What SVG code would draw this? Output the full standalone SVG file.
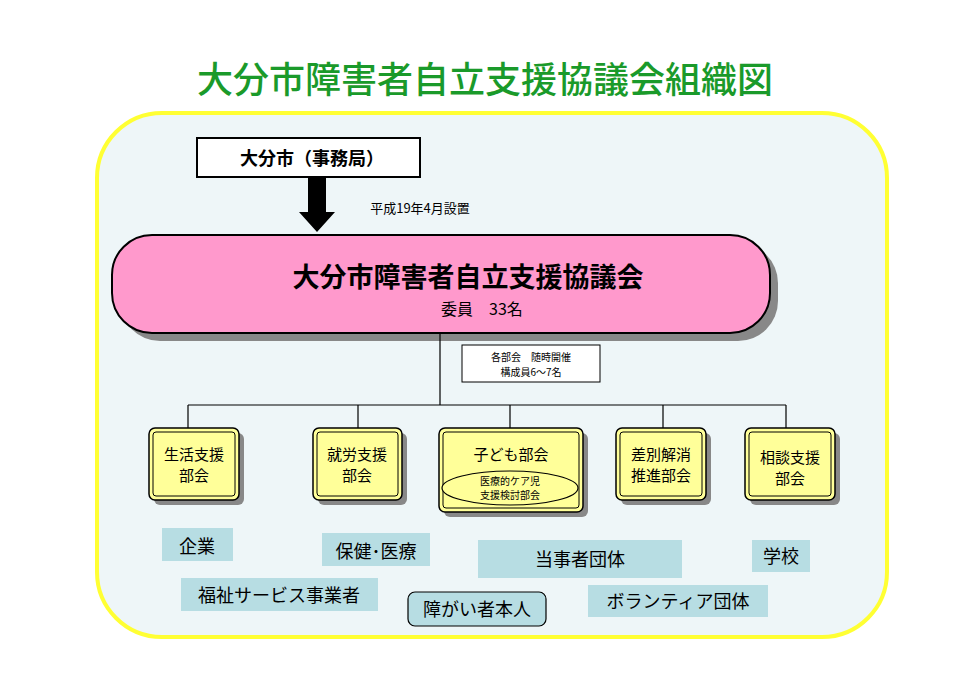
<svg xmlns="http://www.w3.org/2000/svg" width="970" height="686" viewBox="0 0 970 686">
<style>
text{font-family:"Noto Sans CJK JP","Liberation Sans",sans-serif;text-anchor:middle}
.b{fill:#ffff99;stroke:#000;stroke-width:1.5}
.sh{fill:#888}
.l{fill:#b7dde3}
.ln{stroke:#000;stroke-width:1.2;fill:none}
.t{font-size:18px}
</style>
<rect width="970" height="686" fill="#fff"/>
<text x="485" y="93" font-size="36" font-weight="500" fill="#1a9a2a">大分市障害者自立支援協議会組織図</text>
<rect x="97" y="113" width="790" height="524" rx="65" fill="#eef6f8" stroke="#ffff33" stroke-width="4"/>
<g id="jimukyoku">
<rect x="197" y="138" width="223" height="39" fill="#fff" stroke="#000" stroke-width="2"/>
<text x="312" y="165" font-size="18" font-weight="bold">大分市（事務局）</text>
</g>
<g id="arrow">
<polygon points="308,177 326,177 326,212 335,212 317,232 299,212 308,212" fill="#000"/>
<text x="420" y="213" font-size="13">平成19年4月設置</text>
</g>
<g id="kyogikai">
<rect x="120" y="243" width="658" height="98" rx="40" class="sh"/>
<rect x="112" y="235" width="658" height="98" rx="40" fill="#ff99cc" stroke="#000" stroke-width="2"/>
<text x="468" y="287" font-size="27" font-weight="bold">大分市障害者自立支援協議会</text>
<text x="482" y="315" font-size="16">委員　33名</text>
</g>
<g id="connectors" class="ln">
<path d="M440 333V405M188 405H786M188 405V428M358 405V428M510 405V428M663 405V428M786 405V428"/>
</g>
<g id="note">
<rect x="462" y="345" width="138" height="37" fill="#fff" stroke="#000"/>
<text x="531" y="361" font-size="10">各部会　随時開催</text>
<text x="531" y="376" font-size="10">構成員6～7名</text>
</g>
<g id="bukai1"><rect x="154" y="433" width="90" height="72" rx="6" class="sh"/><rect x="149" y="428" width="90" height="72" rx="6" class="b"/><rect x="153" y="432" width="82" height="64" rx="3" fill="none" stroke="#000"/>
<text x="194" y="460" font-size="15">生活支援</text><text x="194" y="481" font-size="15">部会</text></g>
<g id="bukai2"><rect x="318" y="433" width="89" height="72" rx="6" class="sh"/><rect x="313" y="428" width="89" height="72" rx="6" class="b"/><rect x="317" y="432" width="81" height="64" rx="3" fill="none" stroke="#000"/>
<text x="357" y="460" font-size="15">就労支援</text><text x="357" y="481" font-size="15">部会</text></g>
<g id="bukai3"><rect x="444" y="433" width="144" height="84" rx="6" class="sh"/><rect x="439" y="428" width="144" height="84" rx="6" class="b"/><rect x="443" y="432" width="136" height="76" rx="3" fill="none" stroke="#000"/>
<text x="511" y="460" font-size="15">子ども部会</text>
<ellipse cx="510" cy="488" rx="68" ry="17" fill="#ffff99" stroke="#000" stroke-width="1.2"/>
<text x="510" y="485" font-size="10">医療的ケア児</text><text x="510" y="499" font-size="10">支援検討部会</text></g>
<g id="bukai4"><rect x="621" y="433" width="90" height="72" rx="6" class="sh"/><rect x="616" y="428" width="90" height="72" rx="6" class="b"/><rect x="620" y="432" width="82" height="64" rx="3" fill="none" stroke="#000"/>
<text x="661" y="460" font-size="15">差別解消</text><text x="661" y="481" font-size="15">推進部会</text></g>
<g id="bukai5"><rect x="750" y="433" width="90" height="72" rx="6" class="sh"/><rect x="745" y="428" width="90" height="72" rx="6" class="b"/><rect x="749" y="432" width="82" height="64" rx="3" fill="none" stroke="#000"/>
<text x="790" y="463" font-size="15">相談支援</text><text x="790" y="484" font-size="15">部会</text></g>
<g id="kigyo"><rect x="162" y="528" width="71" height="33" class="l"/><text x="197" y="553" class="t">企業</text></g>
<g id="hoken"><rect x="322" y="533" width="108" height="33" class="l"/><text x="376" y="558" class="t">保健･医療</text></g>
<g id="tojisha"><rect x="478" y="540" width="204" height="38" class="l"/><text x="580" y="566" class="t">当事者団体</text></g>
<g id="gakko"><rect x="752" y="540" width="58" height="32" class="l"/><text x="781" y="563" class="t">学校</text></g>
<g id="fukushi"><rect x="181" y="578" width="197" height="33" class="l"/><text x="279" y="602" class="t">福祉サービス事業者</text></g>
<g id="honnin"><rect x="408" y="592" width="138" height="34" rx="7" class="l" stroke="#000" stroke-width="1.2"/><text x="477" y="616" class="t">障がい者本人</text></g>
<g id="volunteer"><rect x="588" y="585" width="180" height="32" class="l"/><text x="678" y="608" class="t">ボランティア団体</text></g>
</svg>
